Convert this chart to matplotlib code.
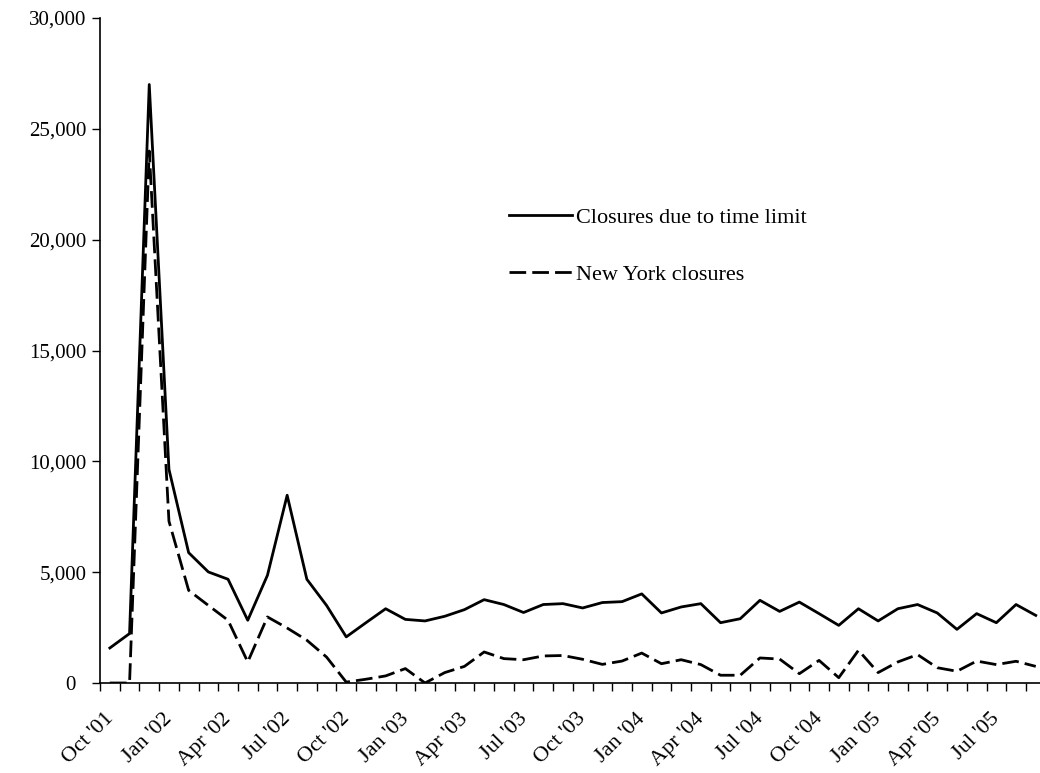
import matplotlib.pyplot as plt
import matplotlib.transforms as mtransforms
import numpy as np

plt.rcParams['font.family'] = ['Liberation Serif', 'DejaVu Serif']

# monthly categories, Oct '01 .. Sep '05
months = ['Oct', 'Nov', 'Dec', 'Jan', 'Feb', 'Mar', 'Apr', 'May', 'Jun',
          'Jul', 'Aug', 'Sep']
cats = []
y, m = 1, 0
for k in range(48):
    cats.append("%s '%02d" % (months[m], y))
    m += 1
    if m == 3:
        y += 1
    if m == 12:
        m = 0

time_limit = [1580, 2230, 27000, 9640, 5880, 5010, 4680, 2830, 4860, 8470,
              4680, 3500, 2080, 2720, 3350, 2870, 2800, 3010, 3310, 3760,
              3540, 3180, 3540, 3580, 3385, 3630, 3670, 4020, 3160, 3430,
              3580, 2720, 2900, 3730, 3230, 3650, 3130, 2600, 3350, 2800,
              3350, 3540, 3160, 2420, 3130, 2720, 3540, 3050]

new_york = [0, 0, 24000, 7300, 4180, 3500, 2830, 950, 2980, 2480,
            1930, 1170, 40, 170, 320, 650, 0, 470, 750, 1400,
            1100, 1050, 1220, 1240, 1070, 840, 990, 1350, 870, 1050,
            830, 350, 350, 1130, 1080, 420, 1020, 240, 1475, 470,
            950, 1280, 690, 530, 990, 830, 980, 750]

yticks = list(range(0, 30001, 5000))
ylabels = ['{:,}'.format(v) for v in yticks]
ylabels[0] = '0  '

x = np.arange(len(cats))

fig = plt.figure(figsize=(10.4, 7.73), dpi=100)
ax = fig.add_axes([100 / 1040, 90 / 773, 945.6 / 1040, 665 / 773])

ax.plot(x, time_limit, color='black', lw=2.0, label='Closures due to time limit')
ax.plot(x, new_york, color='black', lw=2.0, dashes=(6, 2.2),
        label='New York closures')

ax.set_xlim(-0.5, len(cats) - 0.5)
ax.set_ylim(0, 30000)
ax.set_yticks(yticks)
ax.set_yticklabels(ylabels, fontsize=15)

ax.set_xticks(x[::3])
ax.set_xticklabels(cats[::3], rotation=45, ha='right', rotation_mode='anchor',
                   fontsize=16)
ax.tick_params(axis='x', which='major', length=0, pad=19)
ax.set_xticks(np.arange(-0.5, len(cats), 1), minor=True)
ax.tick_params(axis='x', which='minor', length=6, width=1, direction='out')
ax.tick_params(axis='y', length=6, width=1, direction='out')

shift = mtransforms.ScaledTranslation(-6 / 100, 0, fig.dpi_scale_trans)
for lab in ax.get_xticklabels():
    lab.set_transform(lab.get_transform() + shift)

for s in ['top', 'right']:
    ax.spines[s].set_visible(False)
for s in ['left', 'bottom']:
    ax.spines[s].set_linewidth(1.2)

ax.legend(loc='upper left', bbox_to_anchor=(0.4114, 0.7456), frameon=False,
          fontsize=16, handlelength=2.85, handletextpad=0.15, labelspacing=1.64)

fig.savefig('out.png', dpi=100)
